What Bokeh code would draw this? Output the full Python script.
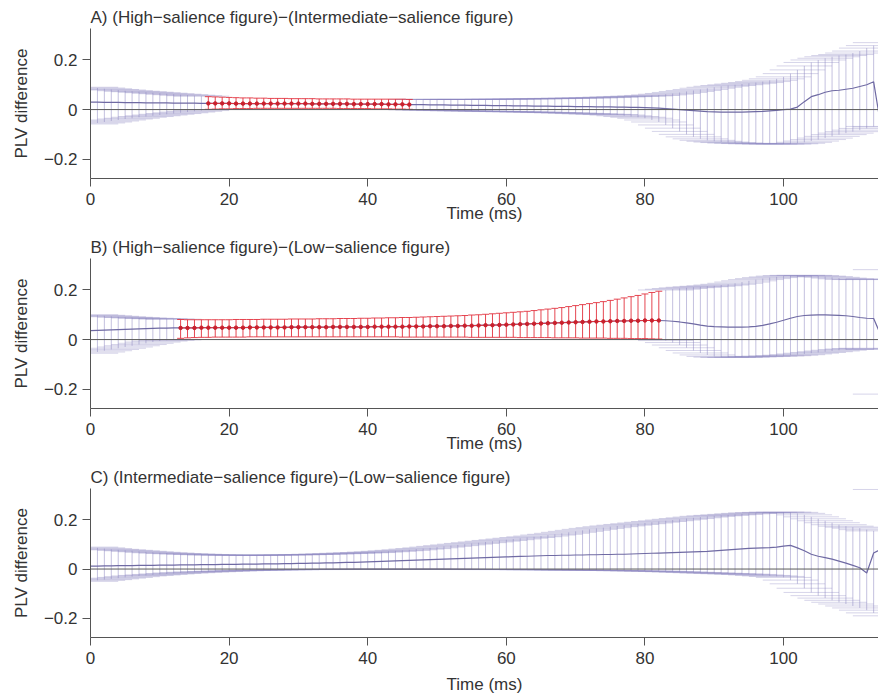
from bokeh.plotting import figure
from bokeh.models import ColumnDataSource, FixedTicker, CustomJSTickFormatter, Range1d, Span
from bokeh.layouts import column
from bokeh.embed import file_html
from bokeh.resources import INLINE

# ---------------- data ----------------
time_ms = list(range(0, 115))

x_ticks = [0, 20, 40, 60, 80, 100]
y_ticks = [-0.2, 0, 0.2]

titles = [
    "A) (High\u2212salience figure)\u2212(Intermediate\u2212salience figure)",
    "B) (High\u2212salience figure)\u2212(Low\u2212salience figure)",
    "C) (Intermediate\u2212salience figure)\u2212(Low\u2212salience figure)",
]

A_mean = [.030, .030, .029, .029, .029, .028, .028, .028, .027, .027,
          .027, .027, .026, .026, .026, .026, .025, .025, .025, .025,
          .025, .024, .024, .024, .024, .024, .024, .024, .024, .024,
          .024, .024, .023, .023, .023, .023, .023, .023, .022, .022,
          .022, .022, .022, .021, .021, .021, .020, .020, .020, .019,
          .019, .019, .018, .018, .018, .017, .017, .017, .016, .016,
          .016, .015, .015, .015, .014, .014, .014, .013, .013, .013,
          .012, .012, .012, .011, .011, .011, .010, .010, .009, .009,
          .008, .007, .006, .004, .002, .000, -.002, -.004, -.006, -.008,
          -.009, -.010, -.010, -.010, -.010, -.009, -.008, -.007, -.005, -.003,
          .000, .002, .010, .032, .052, .060, .070, .076, .078, .082,
          .086, .093, .100, .112, -.060]
A_hi = [.090, .087, .084, .081, .079, .076, .074, .072, .070, .068,
        .066, .064, .062, .060, .058, .056, .054, .052, .051, .050,
        .049, .048, .047, .047, .046, .046, .045, .045, .045, .044,
        .044, .044, .044, .043, .043, .043, .043, .043, .042, .042,
        .042, .042, .042, .042, .042, .042, .041, .041, .041, .041,
        .041, .041, .041, .041, .041, .041, .041, .041, .042, .042,
        .042, .042, .043, .043, .043, .044, .044, .045, .045, .046,
        .046, .047, .047, .048, .049, .050, .051, .052, .053, .054,
        .055, .057, .059, .062, .065, .069, .073, .077, .081, .086,
        .090, .094, .097, .100, .103, .106, .109, .113, .118, .124,
        .132, .145, .160, .176, .190, .200, .207, .213, .218, .222,
        .228, .236, .248, .258, .270]
A_lo = [-.058, -.054, -.050, -.046, -.042, -.038, -.035, -.031, -.028, -.025,
        -.022, -.019, -.016, -.013, -.010, -.007, -.004, .001, .002, .003,
        .003, .004, .004, .004, .005, .005, .005, .005, .005, .005,
        .005, .005, .005, .005, .005, .005, .004, .004, .004, .004,
        .004, .003, .003, .003, .002, .002, .001, -.001, -.002, -.003,
        -.003, -.004, -.004, -.005, -.005, -.006, -.006, -.007, -.007, -.008,
        -.008, -.009, -.009, -.010, -.010, -.011, -.012, -.012, -.013, -.014,
        -.015, -.016, -.017, -.018, -.019, -.020, -.022, -.025, -.028, -.031,
        -.035, -.042, -.050, -.062, -.075, -.088, -.100, -.110, -.118, -.124,
        -.128, -.131, -.133, -.135, -.136, -.137, -.138, -.138, -.139, -.139,
        -.139, -.138, -.136, -.132, -.127, -.121, -.115, -.108, -.101, -.095,
        -.089, -.083, -.076, -.068, -.070]
A_sig = (17, 46)

B_mean = [.036, .037, .038, .039, .040, .041, .042, .043, .044, .045,
          .046, .046, .047, .047, .047, .047, .048, .048, .048, .048,
          .048, .048, .048, .049, .049, .049, .049, .049, .049, .050,
          .050, .050, .050, .050, .050, .051, .051, .051, .051, .051,
          .051, .052, .052, .052, .052, .052, .053, .053, .053, .054,
          .054, .054, .055, .055, .056, .056, .057, .058, .058, .059,
          .060, .061, .062, .063, .064, .065, .066, .067, .068, .069,
          .070, .071, .072, .073, .073, .074, .075, .075, .076, .076,
          .077, .077, .077, .076, .074, .071, .067, .063, .058, .054,
          .052, .051, .050, .050, .050, .051, .053, .057, .063, .070,
          .078, .086, .093, .097, .099, .100, .100, .099, .098, .096,
          .093, .089, .086, .085, .020]
B_hi = [.100, .098, .096, .094, .092, .090, .089, .087, .086, .085,
        .084, .083, .082, .081, .080, .080, .080, .080, .080, .080,
        .080, .081, .081, .081, .081, .082, .082, .082, .082, .083,
        .083, .083, .083, .084, .084, .084, .085, .085, .085, .086,
        .086, .087, .087, .088, .088, .089, .089, .090, .091, .092,
        .093, .094, .095, .096, .097, .099, .100, .102, .104, .106,
        .108, .110, .112, .114, .117, .120, .123, .126, .129, .133,
        .137, .141, .145, .149, .153, .158, .163, .168, .173, .178,
        .184, .190, .195, .200, .203, .206, .209, .211, .213, .215,
        .217, .220, .223, .227, .232, .237, .242, .246, .250, .253,
        .256, .258, .259, .259, .258, .256, .254, .251, .248, .245,
        .243, .242, .242, .245, .282]
B_lo = [-.055, -.050, -.045, -.040, -.035, -.030, -.025, -.020, -.015, -.010,
        -.006, -.003, -.001, .005, .007, .008, .009, .009, .010, .010,
        .010, .010, .010, .011, .011, .011, .011, .011, .011, .011,
        .011, .011, .011, .011, .011, .011, .011, .011, .011, .011,
        .011, .011, .011, .011, .011, .010, .010, .010, .010, .010,
        .010, .010, .010, .010, .010, .009, .009, .009, .009, .009,
        .009, .009, .008, .008, .008, .008, .008, .007, .007, .007,
        .007, .006, .006, .006, .006, .005, .005, .005, .004, .004,
        .004, .003, .002, -.004, -.012, -.022, -.033, -.044, -.054, -.062,
        -.068, -.071, -.072, -.072, -.071, -.070, -.069, -.068, -.067, -.066,
        -.065, -.063, -.061, -.058, -.055, -.052, -.049, -.046, -.043, -.040,
        -.038, -.036, -.035, -.040, -.220]
B_sig = (13, 82)

C_mean = [.012, .012, .013, .013, .014, .014, .014, .015, .015, .015,
          .016, .016, .016, .017, .017, .017, .018, .018, .018, .019,
          .019, .019, .020, .020, .020, .021, .021, .021, .022, .022,
          .023, .023, .024, .024, .025, .025, .026, .027, .027, .028,
          .029, .030, .031, .032, .033, .034, .035, .036, .037, .038,
          .039, .040, .041, .042, .043, .044, .045, .046, .047, .048,
          .049, .050, .051, .052, .053, .054, .055, .055, .056, .056,
          .057, .057, .058, .058, .059, .059, .060, .060, .061, .062,
          .063, .064, .065, .066, .067, .068, .069, .070, .071, .072,
          .074, .076, .078, .080, .082, .084, .085, .086, .087, .089,
          .093, .096, .086, .074, .060, .052, .046, .040, .032, .024,
          .015, .005, -.016, .065, .080]
C_hi = [.089, .086, .083, .080, .078, .076, .074, .072, .070, .068,
        .066, .065, .063, .062, .061, .060, .059, .058, .057, .057,
        .056, .056, .056, .056, .056, .056, .056, .057, .057, .058,
        .058, .059, .059, .060, .061, .062, .063, .064, .065, .066,
        .067, .069, .070, .072, .074, .076, .078, .081, .083, .086,
        .089, .092, .095, .098, .101, .104, .107, .110, .113, .116,
        .119, .122, .125, .128, .131, .134, .138, .141, .145, .149,
        .153, .157, .161, .165, .168, .172, .175, .178, .181, .184,
        .187, .190, .193, .196, .199, .202, .205, .208, .211, .214,
        .216, .218, .220, .222, .224, .226, .228, .229, .230, .231,
        .231, .230, .226, .220, .212, .204, .196, .188, .180, .174,
        .170, .166, .160, .155, .323]
C_lo = [-.050, -.046, -.043, -.040, -.037, -.034, -.031, -.028, -.026, -.024,
        -.022, -.020, -.018, -.016, -.015, -.013, -.012, -.011, -.010, -.009,
        -.008, -.007, -.006, -.005, -.005, -.004, -.004, -.003, -.003, -.003,
        -.002, -.002, -.002, -.002, -.002, -.001, -.001, -.001, -.001, -.001,
        -.001, -.001, -.001, -.001, -.001, -.001, -.001, -.001, -.001, -.001,
        -.001, -.001, -.001, -.001, -.001, -.002, -.002, -.002, -.002, -.002,
        -.002, -.002, -.002, -.003, -.003, -.003, -.003, -.003, -.004, -.004,
        -.004, -.004, -.005, -.005, -.005, -.006, -.006, -.007, -.007, -.008,
        -.008, -.009, -.009, -.010, -.011, -.012, -.013, -.014, -.015, -.016,
        -.017, -.018, -.019, -.020, -.021, -.022, -.024, -.026, -.028, -.030,
        -.034, -.045, -.060, -.078, -.095, -.108, -.118, -.127, -.135, -.142,
        -.150, -.158, -.167, -.178, -.190]
C_sig = None

# ---------------- style ----------------
FONT = "Liberation Sans"
TXT = "#333333"
PURPLE = "#8a84c0"
MEAN_C = "#6f6aa3"
RED = "#e2323e"
RED_DOT = "#c8202c"
CAP_HW = 4.0      # half width of the grey-purple caps (ms)
RED_HW = 0.5      # half width of the red caps (ms)

yfmt = CustomJSTickFormatter(code="""
if (Math.abs(tick) < 1e-9) { return "0"; }
if (tick < 0) { return "\\u2212" + Math.abs(tick).toFixed(1); }
return tick.toFixed(1);
""")


def make_panel(title, mean, lo, hi, sig, height, bottom, xlab_standoff):
    p = figure(width=878, height=height,
               x_range=Range1d(0, 113.7), y_range=Range1d(-0.278, 0.327),
               output_backend="svg", toolbar_location=None,
               min_border_left=90, min_border_right=0,
               min_border_top=28, min_border_bottom=bottom,
               title=title)
    p.outline_line_color = None
    p.xgrid.visible = False
    p.ygrid.visible = False
    p.background_fill_color = "white"
    p.border_fill_color = "white"

    p.title.text_font = FONT
    p.title.text_font_size = "17px"
    p.title.text_font_style = "normal"
    p.title.text_color = TXT
    p.title.align = "left"
    p.title.standoff = 3
    p.title.offset = 0

    is_sig = [(sig is not None and sig[0] <= t <= sig[1]) for t in time_ms]
    nidx = [i for i in range(len(time_ms)) if not is_sig[i]]
    sidx = [i for i in range(len(time_ms)) if is_sig[i]]

    src_n = ColumnDataSource(dict(
        x=[time_ms[i] for i in nidx],
        lo=[lo[i] for i in nidx], hi=[hi[i] for i in nidx],
        xl=[time_ms[i] - CAP_HW for i in nidx], xr=[time_ms[i] + CAP_HW for i in nidx]))
    p.segment(x0="x", y0="lo", x1="x", y1="hi", source=src_n,
              line_color=PURPLE, line_alpha=0.5, line_width=1)
    p.segment(x0="xl", y0="hi", x1="xr", y1="hi", source=src_n,
              line_color=PURPLE, line_alpha=0.35, line_width=1)
    p.segment(x0="xl", y0="lo", x1="xr", y1="lo", source=src_n,
              line_color=PURPLE, line_alpha=0.35, line_width=1)

    p.add_layout(Span(location=0, dimension="width", line_color="#5a5a5a", line_width=1))

    p.line(time_ms, mean, line_color=MEAN_C, line_width=1.2)

    if sidx:
        src_s = ColumnDataSource(dict(
            x=[time_ms[i] for i in sidx], m=[mean[i] for i in sidx],
            lo=[lo[i] for i in sidx], hi=[hi[i] for i in sidx],
            xl=[time_ms[i] - RED_HW for i in sidx], xr=[time_ms[i] + RED_HW for i in sidx]))
        p.segment(x0="x", y0="lo", x1="x", y1="hi", source=src_s,
                  line_color=RED, line_alpha=0.9, line_width=1)
        p.segment(x0="xl", y0="hi", x1="xr", y1="hi", source=src_s,
                  line_color=RED, line_alpha=0.9, line_width=1)
        p.segment(x0="xl", y0="lo", x1="xr", y1="lo", source=src_s,
                  line_color=RED, line_alpha=0.9, line_width=1)
        p.line("x", "m", source=src_s, line_color=RED, line_width=1)
        p.scatter("x", "m", source=src_s, size=3.5, fill_color=RED_DOT,
                  line_color=RED_DOT)

    for ax in (p.xaxis[0], p.yaxis[0]):
        ax.axis_line_color = "#555555"
        ax.major_tick_line_color = "#555555"
        ax.major_tick_out = 8
        ax.major_tick_in = 0
        ax.minor_tick_line_color = None
        ax.major_label_text_font = FONT
        ax.major_label_text_font_size = "17px"
        ax.major_label_text_color = TXT
        ax.axis_label_text_font = FONT
        ax.axis_label_text_font_size = "17px"
        ax.axis_label_text_font_style = "normal"
        ax.axis_label_text_color = TXT

    p.xaxis.ticker = FixedTicker(ticks=x_ticks)
    p.xaxis.major_label_standoff = 6
    p.xaxis.axis_label = "Time (ms)"
    p.xaxis.axis_label_standoff = xlab_standoff

    p.yaxis.ticker = FixedTicker(ticks=y_ticks)
    p.yaxis.formatter = yfmt
    p.yaxis.major_label_standoff = 5
    p.yaxis.axis_label = "PLV difference"
    p.yaxis.axis_label_standoff = 10
    return p


pA = make_panel(titles[0], A_mean, A_lo, A_hi, A_sig, 230, 52, -4)
pB = make_panel(titles[1], B_mean, B_lo, B_hi, B_sig, 230, 52, -4)
pC = make_panel(titles[2], C_mean, C_lo, C_hi, C_sig, 236, 58, 8)

layout = column(pA, pB, pC, spacing=0)
open("out.html", "w").write(file_html(layout, INLINE))
